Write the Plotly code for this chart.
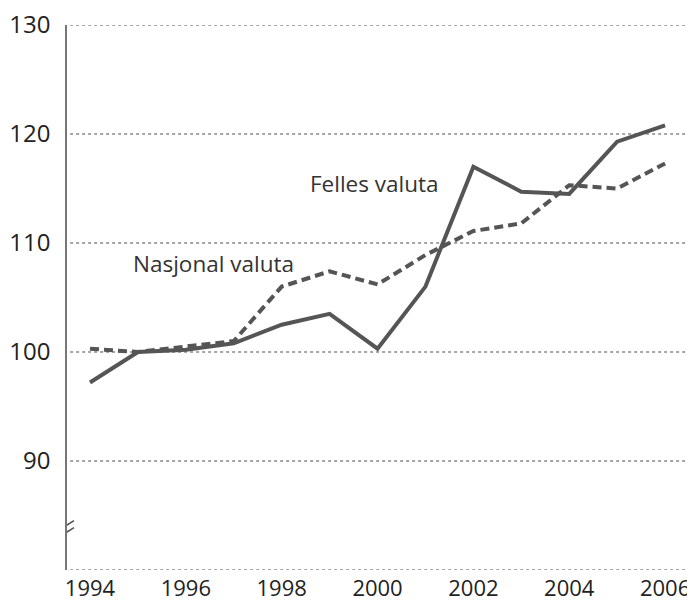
import plotly.graph_objects as go

years = list(range(1994, 2007))
felles = [97.2, 100.0, 100.2, 100.8, 102.5, 103.5, 100.3, 106.0, 117.0, 114.7, 114.5, 119.3, 120.8]
nasjonal = [100.3, 100.0, 100.5, 101.0, 106.0, 107.4, 106.2, 108.9, 111.1, 111.8, 115.3, 115.0, 117.3]
y_ticks = [90, 100, 110, 120, 130]
x_ticks = [1994, 1996, 1998, 2000, 2002, 2004, 2006]

line_color = "#555555"
font_family = "Open Sans, Noto Sans, sans-serif"

fig = go.Figure()
fig.add_trace(go.Scatter(x=years, y=nasjonal, mode="lines",
                         line=dict(color=line_color, width=4, dash="9px,5px"),
                         showlegend=False, hoverinfo="skip"))
fig.add_trace(go.Scatter(x=years, y=felles, mode="lines",
                         line=dict(color=line_color, width=4),
                         showlegend=False, hoverinfo="skip"))

xr = [1993.52, 2006.52]
yr = [80, 130]

# dotted gridlines (including bottom baseline)
for v in [80] + y_ticks:
    fig.add_shape(type="line", xref="paper", x0=0.005, x1=1, yref="y", y0=v, y1=v,
                  line=dict(color="#888888", width=1.3, dash="dot"), layer="below")

# axis break marks
for off in [-3.5, 3.5]:
    fig.add_shape(type="line", xref="x", xsizemode="pixel", xanchor=xr[0],
                  x0=-8, x1=7, yref="y", ysizemode="pixel", yanchor=83.8,
                  y0=-5 + off, y1=4.5 + off,
                  line=dict(color="#555555", width=1.6))

fig.add_annotation(x=1999.93, y=115.5, text="Felles valuta", showarrow=False,
                   font=dict(family=font_family, size=22.5, color="#333333"))
fig.add_annotation(x=1996.57, y=108.1, text="Nasjonal valuta", showarrow=False,
                   font=dict(family=font_family, size=22.5, color="#333333"))

# page has an 8px body margin, so the figure is sized to fit the window
fig.update_layout(
    width=687, height=593,
    margin=dict(l=59, r=5, t=17, b=31),
    plot_bgcolor="white", paper_bgcolor="white",
    font=dict(family=font_family, size=22, color="#222222"),
    xaxis=dict(range=xr, tickvals=x_ticks, showgrid=False, zeroline=False,
               showline=False, ticks="", automargin=False,
               ticklabelstandoff=3, ticklabeloverflow="allow",
               tickfont=dict(size=22)),
    yaxis=dict(range=yr, tickvals=y_ticks, showgrid=False, zeroline=False,
               showline=True, linecolor="#777777", linewidth=1.5, ticks="",
               automargin=False, ticklabelstandoff=10, ticklabeloverflow="allow",
               tickfont=dict(size=24)),
)

fig.write_html("out.html")
